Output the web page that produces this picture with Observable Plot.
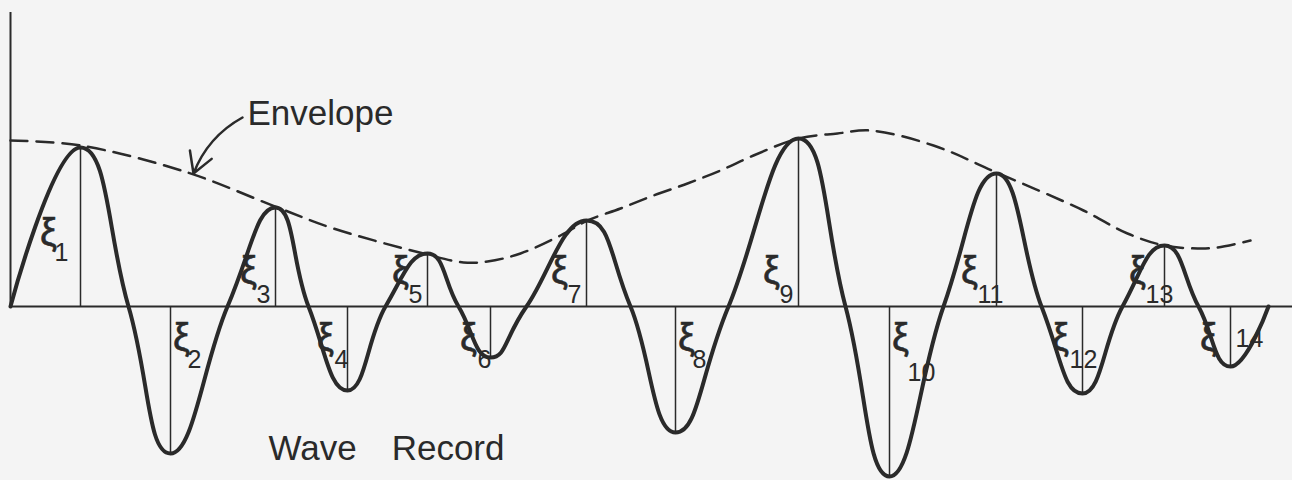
<!DOCTYPE html>
<html><head><meta charset="utf-8">
<script src="https://cdn.jsdelivr.net/npm/d3@7"></script>
<script src="https://cdn.jsdelivr.net/npm/@observablehq/plot@0.6"></script>
<style>html,body{margin:0;padding:0;background:#f4f4f4;} svg{display:block;}</style>
</head><body><div id="chart"></div>
<script>
// ---- data (time in arbitrary units, amplitude in arbitrary units) ----
const crossingT = [0, 11.8, 21.7, 29.8, 37.5, 44.8, 51.6, 62.0, 71.8, 83.5, 93.3, 103.1, 111.2, 118.8, 125.8];
const extremaT  = [7.0, 16.0, 26.5, 33.7, 41.7, 48.0, 57.6, 66.5, 78.8, 87.9, 98.6, 107.2, 115.4, 122.0];
const extremaA  = [15.9, -14.7, 9.9, -8.4, 5.3, -5.1, 8.6, -12.6, 16.8, -17.0, 13.3, -8.7, 6.1, -6.0];
const subscripts = ["1","2","3","4","5","6","7","8","9","10","11","12","13","14"];
const envelopeT = [0, 7.0, 17.7, 26.7, 32.3, 41.3, 45.3, 47.7, 51.0, 55.0, 57.7, 61.0, 64.3, 67.7, 71.0, 74.3, 78.8, 82.7, 86.0, 92.3, 98.6, 107.3, 111.7, 115.4, 118.7, 120.7, 124.0];
const envelopeA = [16.6, 16.1, 13.4, 9.9, 7.8, 5.3, 4.4, 4.5, 5.3, 7.1, 8.6, 9.8, 11.1, 12.3, 13.6, 15.1, 16.8, 17.3, 17.6, 16.1, 13.4, 9.6, 7.3, 6.1, 5.8, 5.9, 6.6];
const xDomain = [0, 128.2];
const yDomain = [-17.4, 29.4];
const envelopeLabel = "Envelope";
const envelopeLabelAt = [23.2, 18.9];   // label anchor (t, a)
const envelopeArrowTo = [18.3, 13.3];   // point on the envelope
const recordLabel = "Wave\u2003Record";

// ---- build tables ----
const extrema = extremaT.map((t, i) => ({t, a: extremaA[i], n: subscripts[i], i: i + 1}));
const wave = [];
crossingT.forEach((t, i) => { wave.push({t, a: 0}); if (i < extrema.length) wave.push(extrema[i]); });
const envelope = envelopeT.map((t, i) => ({t, a: envelopeA[i]}));

const ink = "#2a2a2a";
const font = "Liberation Sans, Arial, sans-serif";
const xiRight = new Set([2, 8, 10]);
const numRight = new Set([2, 8, 10, 14]);

function xiMarks(filter, dx, dy) {
  return Plot.text(extrema.filter(filter), {x: "t", y: 0, text: () => "ξ", dx, dy,
    fontSize: 38, fill: ink, stroke: ink, strokeWidth: 0.6, textAnchor: "middle", lineAnchor: "middle", fontFamily: font});
}
function numMarks(filter, dx, dy) {
  return Plot.text(extrema.filter(filter), {x: "t", y: 0, text: "n", dx, dy,
    fontSize: 25, fill: ink, textAnchor: "start", lineAnchor: "middle", fontFamily: font});
}

const chart = Plot.plot({
  width: 1292, height: 480,
  marginLeft: 10, marginRight: 0, marginTop: 12, marginBottom: 0,
  x: {domain: xDomain, axis: null},
  y: {domain: yDomain, axis: null},
  style: {background: "#f4f4f4", fontFamily: font},
  marks: [
    Plot.ruleY([0], {stroke: ink, strokeWidth: 2}),
    Plot.ruleX([0], {y1: 0, y2: yDomain[1], stroke: ink, strokeWidth: 2}),
    Plot.ruleX(extrema, {x: "t", y1: 0, y2: "a", stroke: ink, strokeWidth: 1.5}),
    Plot.line(envelope, {x: "t", y: "a", curve: "catmull-rom", stroke: ink, strokeWidth: 2.5, strokeDasharray: "17,9"}),
    Plot.line(wave, {x: "t", y: "a", curve: "cardinal", tension: -0.4, stroke: ink, strokeWidth: 4, strokeLinejoin: "round"}),
    // ξ labels
    xiMarks(e => e.i === 1, -32, -74),
    xiMarks(e => e.a > 0 && e.i !== 1 && !xiRight.has(e.i), -27, -36),
    xiMarks(e => e.a < 0 && !xiRight.has(e.i), -22, 31),
    xiMarks(e => e.a < 0 && xiRight.has(e.i), 11, 31),
    numMarks(e => e.i === 1, -26, -54),
    numMarks(e => e.a > 0 && e.i !== 1 && !numRight.has(e.i), -19, -12),
    numMarks(e => e.a < 0 && !numRight.has(e.i), -13, 53),
    numMarks(e => e.a < 0 && numRight.has(e.i) && e.i !== 10 && e.i !== 14, 17, 53),
    numMarks(e => e.i === 10, 18, 66),
    numMarks(e => e.i === 14, 5, 32),
    // annotations
    Plot.arrow([0], {x1: envelopeLabelAt[0], y1: envelopeLabelAt[1], x2: envelopeArrowTo[0], y2: envelopeArrowTo[1],
      bend: -20, stroke: ink, strokeWidth: 2.5, headLength: 14}),
    Plot.text([envelopeLabel], {x: envelopeLabelAt[0], y: envelopeLabelAt[1], text: d => d, dx: 5, dy: -4,
      textAnchor: "start", lineAnchor: "middle", fontSize: 35, fill: ink, fontFamily: font}),
    Plot.text([recordLabel], {frameAnchor: "bottom-left", text: d => d, dx: 258, dy: -21,
      textAnchor: "start", lineAnchor: "bottom", fontSize: 35, fill: ink, fontFamily: font})
  ]
});
document.getElementById("chart").appendChild(chart);
</script>
</body></html>
